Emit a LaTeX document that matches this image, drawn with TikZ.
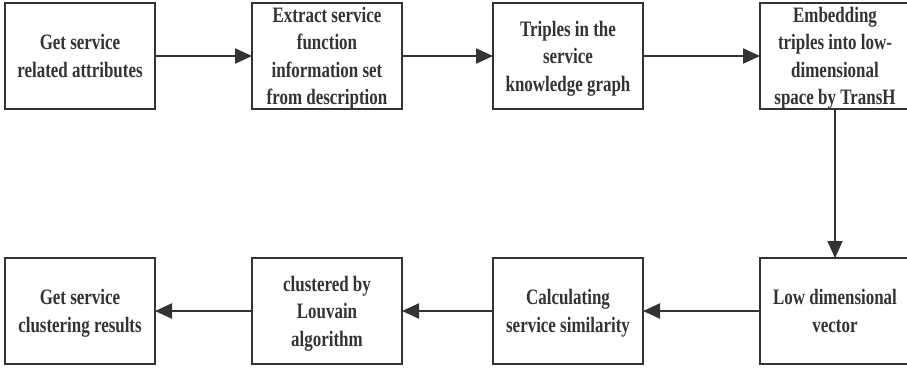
\documentclass[tikz,border=0pt]{standalone}
\usepackage{fontspec}
\newfontfamily\flowfont{Liberation Serif}[FakeStretch=0.77]
\usetikzlibrary{arrows.meta, positioning}

\begin{document}
\begin{tikzpicture}[
    x=1bp, y=-1bp,
    node distance=150bp and 97bp,
    stage/.style={rectangle, draw=black!80, line width=2.8bp, minimum width=150bp, minimum height=106bp, inner sep=0pt, outer sep=0pt, align=center, text depth=-7bp, text=black!80, font=\flowfont\bfseries\fontsize{22bp}{27.5bp}\selectfont},
    flow/.style={-{Triangle[length=17bp, width=15bp]}, line width=2.2bp, draw=black!80}
]
    \useasboundingbox (0,0) rectangle (907,369);

    % upper row, left to right
    \node (attr) [stage] at (80,56) {Get service\\related attributes};
    \node (extract) [stage, right=97bp of attr] {Extract service\\function\\information set\\from description};
    \node (triples) [stage, right=91bp of extract] {Triples in the\\service\\knowledge graph};
    \node (embed) [stage, right=117bp of triples] {Embedding\\triples into low-\\dimensional\\space by TransH};

    % lower row, right to left
    \node (lowvec) [stage, below=149bp of embed] {Low dimensional\\vector};
    \node (simil) [stage, left=117bp of lowvec] {Calculating\\service similarity};
    \node (louvain) [stage, left=91bp of simil] {clustered by\\Louvain\\algorithm};
    \node (result) [stage, left=97bp of louvain] {Get service\\clustering results};

    \draw [flow] (attr) -- (extract);
    \draw [flow] (extract) -- (triples);
    \draw [flow] (triples) -- (embed);
    \draw [flow, line width=1.7bp] (embed) -- (lowvec);
    \draw [flow] (lowvec) -- (simil);
    \draw [flow] (simil) -- (louvain);
    \draw [flow] (louvain) -- (result);
\end{tikzpicture}
\end{document}
